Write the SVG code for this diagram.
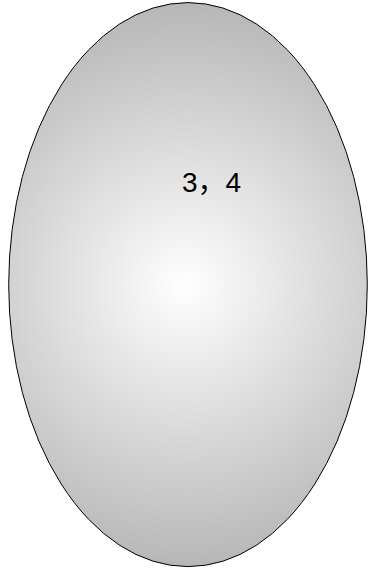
<svg xmlns="http://www.w3.org/2000/svg" width="368" height="568" viewBox="0 0 368 568">
  <defs>
    <radialGradient id="g" gradientUnits="userSpaceOnUse" cx="185" cy="285" r="285" fx="185" fy="285">
      <stop offset="0" stop-color="#ffffff"/>
      <stop offset="1" stop-color="#b6b6b6"/>
    </radialGradient>
  </defs>
  <style>
    .shape { fill: url(#g); stroke: #000; stroke-width: 1; }
    .label { font-family: "Liberation Sans", "Noto Sans CJK SC", sans-serif; font-size: 28px; fill: #000; }
  </style>
  <g id="node1">
    <ellipse class="shape" cx="188" cy="284.6" rx="179.3" ry="282"/>
    <text class="label" x="182" y="191.5">3，4</text>
  </g>
</svg>
